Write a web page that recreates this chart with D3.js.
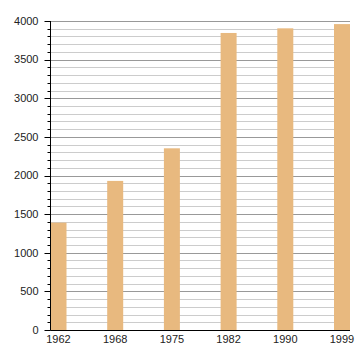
<!DOCTYPE html>
<html><head><meta charset="utf-8">
<script src="https://cdn.jsdelivr.net/npm/d3@7"></script>
<style>body{margin:0;background:#fff}svg{display:block}</style>
</head><body>
<svg id="c" width="360" height="360"></svg>
<script>
const years = ["1962","1968","1975","1982","1990","1999"];
const population = [1390, 1930, 2352, 3845, 3905, 3960];
const yMajorTicks = [0,500,1000,1500,2000,2500,3000,3500,4000];

(function(){
const svg = d3.select("#c");
const mLeft = 50.5, mRight = 350, mTop = 21, mBottom = 330;
const barW = 16;
const y = d3.scaleLinear().domain([0,4000]).range([mBottom, mTop]);
const x = d3.scalePoint().domain(years).range([mLeft + barW/2, mRight - barW/2]);

const minor = d3.range(0, 4001, 100);
svg.append("g").selectAll("line").data(minor).join("line")
  .attr("x1", mLeft).attr("x2", mRight)
  .attr("y1", d => Math.round(y(d))+0.5).attr("y2", d => Math.round(y(d))+0.5)
  .attr("stroke", d => d % 500 === 0 ? "#999" : "#ccc").attr("stroke-width", 1);

svg.append("g").selectAll("rect").data(years).join("rect")
  .attr("x", d => x(d) - barW/2)
  .attr("width", barW)
  .attr("y", (d,i) => y(population[i]))
  .attr("height", (d,i) => mBottom - y(population[i]))
  .attr("fill", "#e8b97f");

const yAxis = svg.append("g").attr("transform", `translate(${mLeft},0)`);
yAxis.append("line").attr("x1",0).attr("x2",0).attr("y1",mTop).attr("y2",mBottom+0.5).attr("stroke","#000");
yAxis.selectAll("line.t").data(minor).join("line").attr("class","t")
  .attr("x1", d => d % 500 === 0 ? -6 : -3).attr("x2", 0)
  .attr("y1", d => Math.round(y(d))+0.5).attr("y2", d => Math.round(y(d))+0.5)
  .attr("stroke","#000");
yAxis.selectAll("text").data(yMajorTicks).join("text")
  .attr("x", -12).attr("y", d => y(d)).attr("dy","0.35em")
  .attr("text-anchor","end")
  .attr("font-family","Liberation Sans, Arial, sans-serif").attr("font-size", 11)
  .attr("fill","#222").text(d => d);

svg.append("line").attr("x1", mLeft).attr("x2", mRight).attr("y1", mBottom+0.5).attr("y2", mBottom+0.5).attr("stroke","#000");
svg.append("g").selectAll("text").data(years).join("text")
  .attr("x", d => x(d)).attr("y", mBottom + 13)
  .attr("text-anchor","middle")
  .attr("font-family","Liberation Sans, Arial, sans-serif").attr("font-size", 11)
  .attr("fill","#222").text(d => d);
})();
</script>
</body></html>
